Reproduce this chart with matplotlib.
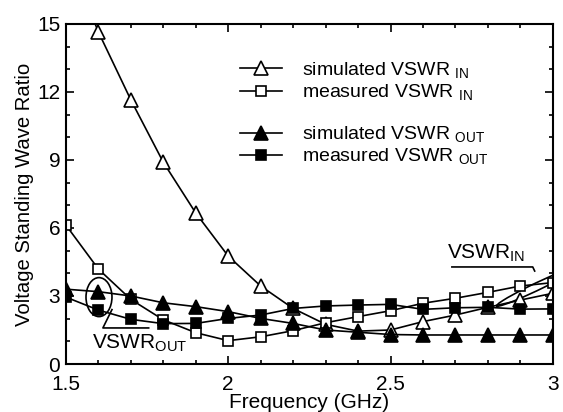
import matplotlib
matplotlib.use("Agg")
import matplotlib.pyplot as plt
from matplotlib.patches import Ellipse
from matplotlib.lines import Line2D

plt.rcParams['font.family'] = ['Liberation Sans', 'DejaVu Sans']
plt.rcParams['mathtext.fontset'] = 'custom'
plt.rcParams['mathtext.rm'] = 'Liberation Sans'

freq = [1.5, 1.6, 1.7, 1.8, 1.9, 2.0, 2.1, 2.2, 2.3, 2.4, 2.5, 2.6, 2.7, 2.8, 2.9, 3.0]
sim_in = [18.2, 14.65, 11.65, 8.9, 6.66, 4.76, 3.44, 2.45, 1.75, 1.45, 1.5, 1.87, 2.16, 2.5, 2.82, 3.12]
meas_in = [6.13, 4.19, 2.85, 1.95, 1.38, 1.03, 1.2, 1.47, 1.82, 2.09, 2.35, 2.68, 2.9, 3.16, 3.44, 3.59]
sim_out = [3.3, 3.19, 3.0, 2.7, 2.53, 2.31, 2.01, 1.79, 1.5, 1.4, 1.3, 1.28, 1.28, 1.28, 1.28, 1.28]
meas_out = [2.95, 2.38, 1.97, 1.78, 1.79, 2.01, 2.16, 2.45, 2.56, 2.6, 2.63, 2.41, 2.48, 2.5, 2.42, 2.43]

labels = ["simulated VSWR $_{\\mathrm{IN}}$", "measured VSWR $_{\\mathrm{IN}}$",
          "simulated VSWR $_{\\mathrm{OUT}}$", "measured VSWR $_{\\mathrm{OUT}}$"]

fig = plt.figure(figsize=(5.63, 4.12), dpi=100)
ax = fig.add_axes([0.117, 0.1165, 0.865, 0.8255])

lw = 1.2
h1, = ax.plot(freq, sim_in, '-', color='black', lw=lw, marker='^', ms=10, mfc='white', mec='black', mew=1.2)
h2, = ax.plot(freq, meas_in, '-', color='black', lw=lw, marker='s', ms=7.5, mfc='white', mec='black', mew=1.2)
h3, = ax.plot(freq, sim_out, '-', color='black', lw=lw, marker='^', ms=10, mfc='black', mec='black', mew=1.2)
h4, = ax.plot(freq, meas_out, '-', color='black', lw=lw, marker='s', ms=7.5, mfc='black', mec='black', mew=1.2)

ax.set_xlim(1.5, 3.0)
ax.set_ylim(0, 15)
ax.set_xticks([1.5, 2, 2.5, 3])
ax.set_xticklabels(['1.5', '2', '2.5', '3'])
ax.set_yticks([0, 3, 6, 9, 12, 15])
ax.set_xticks([1.5 + 0.1 * i for i in range(16)], minor=True)
ax.set_yticks(list(range(16)), minor=True)
ax.tick_params(which='both', direction='in', top=True, right=True, labelsize=15, width=1.2)
ax.tick_params(axis='x', which='major', pad=8)
ax.tick_params(axis='y', which='major', pad=4)
ax.tick_params(which='major', length=6)
ax.tick_params(which='minor', length=3)
for s in ax.spines.values():
    s.set_linewidth(1.5)

ax.set_xlabel('Frequency (GHz)', fontsize=15, labelpad=-1)
ax.set_ylabel('Voltage Standing Wave Ratio', fontsize=14.6, labelpad=2)

blank = Line2D([], [], color='none')
leg = ax.legend([h1, h2, blank, h3, h4], [labels[0], labels[1], '', labels[2], labels[3]],
                loc='upper left', bbox_to_anchor=(0.329, 0.933), frameon=False, fontsize=14,
                handlelength=2.2, handletextpad=1.0, labelspacing=0.1, borderpad=0.2)

# annotation VSWR_OUT
ax.add_patch(Ellipse((1.602, 2.95), 0.08, 1.72, angle=0, fill=False, ec='black', lw=1.2))
ax.plot([1.642, 1.614, 1.755], [2.4, 1.59, 1.59], color='black', lw=1.2)
ax.text(1.58, 0.93, 'VSWR$_{\\mathrm{OUT}}$', fontsize=15, va='center', ha='left')

# annotation VSWR_IN
ax.add_patch(Ellipse((2.949, 3.40), 0.052, 1.72, angle=-8, fill=False, ec='black', lw=1.2))
ax.plot([2.689, 2.938, 2.944], [4.28, 4.28, 4.1], color='black', lw=1.2)
ax.text(2.673, 4.9, 'VSWR$_{\\mathrm{IN}}$', fontsize=15, va='center', ha='left')

fig.savefig('out.png', dpi=100)
